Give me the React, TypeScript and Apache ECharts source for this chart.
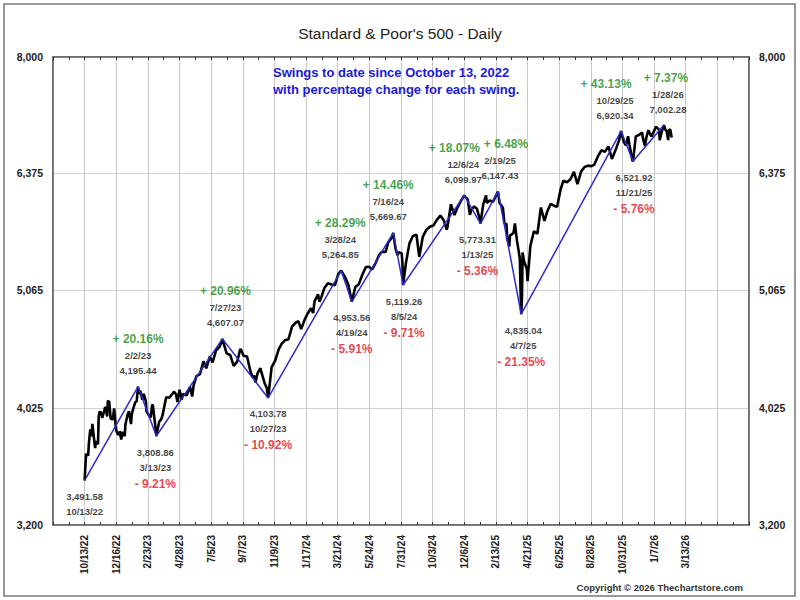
import React, { useEffect, useRef } from "react";
import * as echarts from "echarts";

const FONT = 'Arial, "Liberation Sans", sans-serif';

const TITLE = "Standard & Poor's 500 - Daily";
const NOTE_LINES = ["Swings to date since October 13, 2022", "with percentage change for each swing."];
const COPYRIGHT = "Copyright \u00a9 2026 Thechartstore.com";

const X_TICK_LABELS = [
  "10/13/22", "12/16/22", "2/23/23", "4/28/23", "7/5/23", "9/7/23", "11/9/23", "1/17/24",
  "3/21/24", "5/24/24", "7/31/24", "10/3/24", "12/6/24", "2/13/25", "4/21/25", "6/25/25",
  "8/28/25", "10/31/25", "1/7/26", "3/13/26",
];
const X_TICK_STEP = 45;
const Y_TICKS = [3200, 4025, 5065, 6375, 8000];

const HOLIDAYS = [
  "11/24/22", "12/26/22",
  "1/2/23", "1/16/23", "2/20/23", "4/7/23", "5/29/23", "6/19/23", "7/4/23", "9/4/23", "11/23/23", "12/25/23",
  "1/1/24", "1/15/24", "2/19/24", "3/29/24", "5/27/24", "6/19/24", "7/4/24", "9/2/24", "11/28/24", "12/25/24",
  "1/1/25", "1/9/25", "1/20/25", "2/17/25", "4/18/25", "5/26/25", "6/19/25", "7/4/25", "9/1/25", "11/27/25", "12/25/25",
  "1/1/26", "1/19/26", "2/16/26",
];

const PRICES_2022: [string, number][] = [
  ["10/13/22", 3491.58], ["10/14/22", 3583.07], ["10/17/22", 3677.95], ["10/20/22", 3665.78], ["10/21/22", 3752.75],
  ["10/25/22", 3859.11], ["10/27/22", 3807.3], ["10/28/22", 3901.06], ["11/2/22", 3759.69], ["11/3/22", 3719.89],
  ["11/4/22", 3770.55], ["11/9/22", 3748.57], ["11/10/22", 3956.37], ["11/11/22", 3992.93], ["11/15/22", 3991.73],
  ["11/17/22", 3946.56], ["11/18/22", 3965.34], ["11/23/22", 4027.26], ["11/25/22", 4026.12], ["11/29/22", 3957.63],
  ["11/30/22", 4080.11], ["12/1/22", 4076.57], ["12/2/22", 4071.7], ["12/6/22", 3941.26], ["12/9/22", 3934.38],
  ["12/13/22", 4019.65], ["12/15/22", 3895.75], ["12/16/22", 3852.36], ["12/20/22", 3821.62], ["12/22/22", 3822.39],
  ["12/23/22", 3844.82], ["12/28/22", 3783.22], ["12/30/22", 3839.5],
];
const PRICES_2023: [string, number][] = [
  ["1/5/23", 3808.1], ["1/6/23", 3895.08], ["1/11/23", 3969.61], ["1/13/23", 3999.09], ["1/19/23", 3898.85],
  ["1/20/23", 3972.61], ["1/24/23", 4016.95], ["1/27/23", 4070.56], ["1/31/23", 4076.6], ["2/2/23", 4195.44],
  ["2/3/23", 4136.48], ["2/7/23", 4164.0], ["2/10/23", 4090.46], ["2/14/23", 4136.13], ["2/17/23", 4079.09],
  ["2/21/23", 3997.34], ["2/24/23", 3970.04], ["3/1/23", 3951.39], ["3/3/23", 4045.64], ["3/6/23", 4048.42],
  ["3/10/23", 3861.59], ["3/13/23", 3808.86], ["3/17/23", 3916.64], ["3/22/23", 3936.97], ["3/24/23", 3970.99],
  ["3/31/23", 4109.31], ["4/6/23", 4105.02], ["4/14/23", 4137.64], ["4/18/23", 4154.87], ["4/21/23", 4133.52],
  ["4/25/23", 4071.63], ["4/28/23", 4169.48], ["5/3/23", 4090.75], ["5/5/23", 4136.25], ["5/12/23", 4124.08],
  ["5/19/23", 4191.98], ["5/24/23", 4115.24], ["5/26/23", 4205.45], ["6/2/23", 4282.37], ["6/9/23", 4298.86],
  ["6/16/23", 4409.59], ["6/23/23", 4348.33], ["6/30/23", 4450.38], ["7/7/23", 4398.95], ["7/14/23", 4505.42],
  ["7/21/23", 4536.34], ["7/27/23", 4607.07], ["7/28/23", 4582.23], ["8/4/23", 4478.03], ["8/11/23", 4464.05],
  ["8/18/23", 4369.71], ["8/25/23", 4405.71], ["8/31/23", 4507.66], ["9/1/23", 4515.77], ["9/8/23", 4457.49],
  ["9/15/23", 4450.32], ["9/22/23", 4320.06], ["9/27/23", 4274.51], ["9/29/23", 4288.05], ["10/3/23", 4229.45],
  ["10/6/23", 4308.5], ["10/12/23", 4349.61], ["10/13/23", 4327.78], ["10/20/23", 4224.16], ["10/25/23", 4186.77],
  ["10/27/23", 4103.78], ["11/3/23", 4358.34], ["11/10/23", 4415.24], ["11/17/23", 4514.02], ["11/24/23", 4559.34],
  ["12/1/23", 4594.63], ["12/8/23", 4604.37], ["12/15/23", 4719.19], ["12/22/23", 4754.63], ["12/29/23", 4769.83],
];
const PRICES_2024: [string, number][] = [
  ["1/5/24", 4697.24], ["1/12/24", 4783.83], ["1/19/24", 4839.81], ["1/26/24", 4890.97], ["1/31/24", 4845.65],
  ["2/2/24", 4958.61], ["2/9/24", 5026.61], ["2/13/24", 4953.17], ["2/16/24", 5005.57], ["2/23/24", 5088.8],
  ["3/1/24", 5137.08], ["3/8/24", 5123.69], ["3/15/24", 5117.09], ["3/22/24", 5234.18], ["3/28/24", 5264.85],
  ["4/5/24", 5204.34], ["4/12/24", 5123.41], ["4/19/24", 4953.56], ["4/26/24", 5099.96], ["5/3/24", 5127.79],
  ["5/10/24", 5222.68], ["5/17/24", 5303.27], ["5/24/24", 5304.72], ["5/31/24", 5277.51], ["6/7/24", 5346.99],
  ["6/14/24", 5431.6], ["6/21/24", 5464.62], ["6/28/24", 5460.48], ["7/5/24", 5567.19], ["7/12/24", 5615.35],
  ["7/16/24", 5669.67], ["7/19/24", 5505.0], ["7/24/24", 5427.13], ["7/26/24", 5459.1], ["8/1/24", 5446.68],
  ["8/2/24", 5346.56], ["8/5/24", 5119.26], ["8/9/24", 5344.16], ["8/16/24", 5554.25], ["8/23/24", 5634.61],
  ["8/30/24", 5648.4], ["9/6/24", 5408.42], ["9/13/24", 5626.02], ["9/20/24", 5702.55], ["9/27/24", 5738.17],
  ["10/4/24", 5751.07], ["10/11/24", 5815.03], ["10/18/24", 5864.67], ["10/25/24", 5808.12], ["10/31/24", 5705.45],
  ["11/1/24", 5728.8], ["11/8/24", 5995.54], ["11/15/24", 5870.62], ["11/22/24", 5969.34], ["11/29/24", 6032.38],
  ["12/6/24", 6099.97], ["12/13/24", 6051.09], ["12/18/24", 5872.16], ["12/20/24", 5930.85], ["12/27/24", 5970.84],
];
const PRICES_2025: [string, number][] = [
  ["1/3/25", 5942.47], ["1/10/25", 5827.04], ["1/13/25", 5773.31], ["1/17/25", 5996.66], ["1/24/25", 6101.24],
  ["1/27/25", 6012.28], ["1/31/25", 6040.53], ["2/7/25", 6025.99], ["2/14/25", 6114.63], ["2/19/25", 6147.43],
  ["2/21/25", 6013.13], ["2/28/25", 5954.5], ["3/4/25", 5778.15], ["3/7/25", 5770.2], ["3/10/25", 5614.56],
  ["3/13/25", 5521.52], ["3/14/25", 5638.94], ["3/21/25", 5667.56], ["3/25/25", 5776.65], ["3/28/25", 5580.94],
  ["4/3/25", 5396.52], ["4/4/25", 5074.08], ["4/7/25", 4835.04], ["4/8/25", 4982.77], ["4/9/25", 5456.9],
  ["4/11/25", 5363.36], ["4/17/25", 5282.7], ["4/21/25", 5158.2], ["4/25/25", 5525.21], ["5/2/25", 5686.67],
  ["5/9/25", 5659.91], ["5/16/25", 5958.38], ["5/23/25", 5802.82], ["5/30/25", 5911.69], ["6/6/25", 6000.36],
  ["6/13/25", 5976.97], ["6/20/25", 5967.84], ["6/27/25", 6173.07], ["7/3/25", 6279.35], ["7/11/25", 6259.75],
  ["7/18/25", 6296.79], ["7/25/25", 6388.64], ["8/1/25", 6238.01], ["8/8/25", 6389.45], ["8/15/25", 6449.8],
  ["8/22/25", 6466.91], ["8/29/25", 6460.26], ["9/5/25", 6481.5], ["9/12/25", 6584.29], ["9/19/25", 6664.36],
  ["9/26/25", 6643.7], ["10/3/25", 6715.79], ["10/10/25", 6552.51], ["10/17/25", 6664.01], ["10/24/25", 6791.69],
  ["10/29/25", 6920.34], ["10/31/25", 6840.2], ["11/4/25", 6771.55], ["11/7/25", 6728.8], ["11/12/25", 6850.92],
  ["11/14/25", 6734.11], ["11/20/25", 6538.76], ["11/21/25", 6521.92], ["11/28/25", 6849.09], ["12/5/25", 6870.4],
  ["12/11/25", 6901.0], ["12/12/25", 6827.41], ["12/17/25", 6721.43], ["12/19/25", 6834.5], ["12/24/25", 6932.05],
  ["12/31/25", 6845.5],
];
const PRICES_2026: [string, number][] = [
  ["1/2/26", 6858.47], ["1/9/26", 6966.28], ["1/12/26", 6977.27], ["1/16/26", 6940.01], ["1/20/26", 6796.86],
  ["1/23/26", 6915.61], ["1/28/26", 7002.28], ["1/30/26", 6939.03], ["2/3/26", 6917.0], ["2/5/26", 6798.0],
  ["2/6/26", 6932.0], ["2/10/26", 6941.0], ["2/12/26", 6833.0],
];

const SWING_DATES = [
  "10/13/22", "2/2/23", "3/13/23", "7/27/23", "10/27/23", "3/28/24", "4/19/24", "7/16/24",
  "8/5/24", "12/6/24", "1/13/25", "2/19/25", "4/7/25", "10/29/25", "11/21/25", "1/28/26",
];
const SWING_VALUES = [
  3491.58, 4195.44, 3808.86, 4607.07, 4103.78, 5264.85, 4953.56, 5669.67,
  5119.26, 6099.97, 5773.31, 6147.43, 4835.04, 6920.34, 6521.92, 7002.28,
];
const SWING_PCTS = [
  "", "+ 20.16%", "- 9.21%", "+ 20.96%", "- 10.92%", "+ 28.29%", "- 5.91%", "+ 14.46%",
  "- 9.71%", "+ 18.07%", "- 5.36%", "+ 6.48%", "- 21.35%", "+ 43.13%", "- 5.76%", "+ 7.37%",
];
// label horizontal nudges (layout only): [date/value block dx, percentage dx]
const SWING_LABEL_NUDGE = [
  [0, 0], [0, 0], [-1, -1], [3, 3], [0, 0], [-1, -1], [0, 0], [-5, -5],
  [1, 1], [-1, -10], [-3, -3], [2, 8], [2, 0], [-6, -15], [1, 1], [4, 2],
];

const DAY = 86400000;
function parseMDY(s: string): number {
  const [m, d, y] = s.split("/").map(Number);
  return Date.UTC(2000 + y, m - 1, d);
}
const START = parseMDY(X_TICK_LABELS[0]);
const HOLIDAY_SET = new Set(HOLIDAYS.map(parseMDY));
function tradingIndex(s: string): number {
  const t = parseMDY(s);
  let idx = 0;
  for (let x = START; x < t; x += DAY) {
    const dow = new Date(x).getUTCDay();
    if (dow !== 0 && dow !== 6 && !HOLIDAY_SET.has(x)) idx++;
  }
  return idx;
}
const fmtNum = (v: number, dec: number) =>
  v.toLocaleString("en-US", { minimumFractionDigits: dec, maximumFractionDigits: dec });

export default function App() {
  const ref = useRef<HTMLDivElement>(null);
  useEffect(() => {
    document.body.style.margin = "0";
    if (!ref.current) return;
    const chart = echarts.init(ref.current, null, { renderer: "svg" });

    const priceData = [...PRICES_2022, ...PRICES_2023, ...PRICES_2024, ...PRICES_2025, ...PRICES_2026].map(
      ([d, v]) => [tradingIndex(d), v]
    );
    const swingData = SWING_DATES.map((d, i) => [tradingIndex(d), SWING_VALUES[i]]);

    const dvData = swingData.map((p, i) => {
      const low = i % 2 === 0;
      const dateTxt = `{d|${SWING_DATES[i]}}`;
      const valTxt = `{d|${fmtNum(SWING_VALUES[i], 2)}}`;
      return {
        value: p,
        label: {
          position: low ? "bottom" : "top",
          distance: 8,
          offset: [SWING_LABEL_NUDGE[i][0], 0],
          formatter: low ? `${valTxt}\n${dateTxt}` : `${dateTxt}\n${valTxt}`,
        },
      };
    });
    const pctData = swingData
      .map((p, i) => ({ p, i }))
      .filter(({ i }) => SWING_PCTS[i] !== "")
      .map(({ p, i }) => {
        const low = i % 2 === 0;
        return {
          value: p,
          label: {
            position: low ? "bottom" : "top",
            distance: 38,
            offset: [SWING_LABEL_NUDGE[i][1], 0],
            formatter: SWING_PCTS[i],
            color: low ? "#e5121c" : "#148c14",
          },
        };
      });

    const xAxisBase = {
      type: "value",
      min: -X_TICK_STEP,
      max: X_TICK_STEP * (X_TICK_LABELS.length + 1),
      interval: X_TICK_STEP,
      axisLine: { show: true, onZero: false, lineStyle: { color: "#666", width: 1.5 } },
      axisTick: { show: true, inside: true, length: 3, lineStyle: { color: "#333", width: 1 } },
      minorTick: { show: true, splitNumber: 2, length: 3, lineStyle: { color: "#333", width: 1 } },
      minorSplitLine: { show: false },
    };
    const yAxisBase = {
      type: "log",
      min: Y_TICKS[0],
      max: Y_TICKS[Y_TICKS.length - 1],
      axisLine: { show: true, onZero: false, lineStyle: { color: "#666", width: 1.5 } },
      axisTick: { show: false, customValues: Y_TICKS },
      axisLabel: {
        customValues: Y_TICKS,
        formatter: (v: number) => fmtNum(v, 0),
        color: "#222",
        fontSize: 10.5,
        fontWeight: "bold",
        fontFamily: FONT,
        margin: 10,
      },
    };

    chart.setOption({
      animation: false,
      backgroundColor: "#fff",
      title: {
        text: TITLE,
        left: "center",
        top: 20,
        textStyle: { fontSize: 15.5, fontWeight: "normal", color: "#222", fontFamily: FONT },
      },
      grid: { left: 53, right: 51, top: 57, bottom: 75, show: true, borderColor: "#666", borderWidth: 1.5 },
      xAxis: [
        {
          ...xAxisBase,
          position: "bottom",
          splitLine: { show: true, lineStyle: { color: "#c8c8c8", width: 1 } },
          axisLabel: {
            rotate: 90,
            margin: 10,
            color: "#222",
            fontSize: 10,
            fontWeight: "bold",
            fontFamily: FONT,
            showMinLabel: true,
            showMaxLabel: true,
            formatter: (v: number) => X_TICK_LABELS[Math.round(v / X_TICK_STEP)] ?? "",
          },
        },
        {
          ...xAxisBase,
          position: "top",
          splitLine: { show: false },
          axisLabel: { show: false },
        },
      ],
      yAxis: [
        {
          ...yAxisBase,
          position: "left",
          splitLine: { show: true, lineStyle: { color: "#d0d0d0", width: 1 } },
        },
        {
          ...yAxisBase,
          position: "right",
          splitLine: { show: false },
        },
      ],
      series: [
        {
          type: "line",
          data: priceData,
          showSymbol: false,
          symbol: "none",
          lineStyle: { color: "#000", width: 2.6 },
          z: 3,
          silent: true,
        },
        {
          type: "line",
          data: swingData,
          showSymbol: false,
          symbol: "none",
          lineStyle: { color: "#2b2bd0", width: 1.5 },
          z: 4,
          silent: true,
        },
        {
          type: "scatter",
          data: dvData,
          symbolSize: 1,
          itemStyle: { color: "transparent" },
          silent: true,
          z: 5,
          label: {
            show: true,
            rich: {
              d: { fontSize: 9.5, fontWeight: "bold", color: "#111", fontFamily: FONT, lineHeight: 15 },
            },
          },
        },
        {
          type: "scatter",
          data: pctData,
          symbolSize: 1,
          itemStyle: { color: "transparent" },
          silent: true,
          z: 5,
          label: {
            show: true,
            fontSize: 12,
            fontWeight: "bold",
            fontFamily: FONT,
            lineHeight: 18,
          },
        },
      ],
      graphic: [
        {
          type: "rect",
          shape: { x: 4, y: 4, width: 791, height: 592 },
          style: { fill: "none", stroke: "#777", lineWidth: 1.5 },
          silent: true,
          z: 0,
        },
        {
          type: "text",
          x: 273,
          y: 63.5,
          style: {
            text: NOTE_LINES.join("\n"),
            font: `bold 13px ${FONT}`,
            fill: "#1a1ad8",
            lineHeight: 17,
          },
          silent: true,
          z: 10,
        },
        {
          type: "text",
          x: 743,
          y: 587,
          style: {
            text: COPYRIGHT,
            font: `bold 9.5px ${FONT}`,
            fill: "#333",
            textAlign: "right",
            textVerticalAlign: "middle",
          },
          silent: true,
          z: 10,
        },
      ],
    });
    return () => chart.dispose();
  }, []);
  return <div ref={ref} style={{ width: 800, height: 600 }} />;
}
